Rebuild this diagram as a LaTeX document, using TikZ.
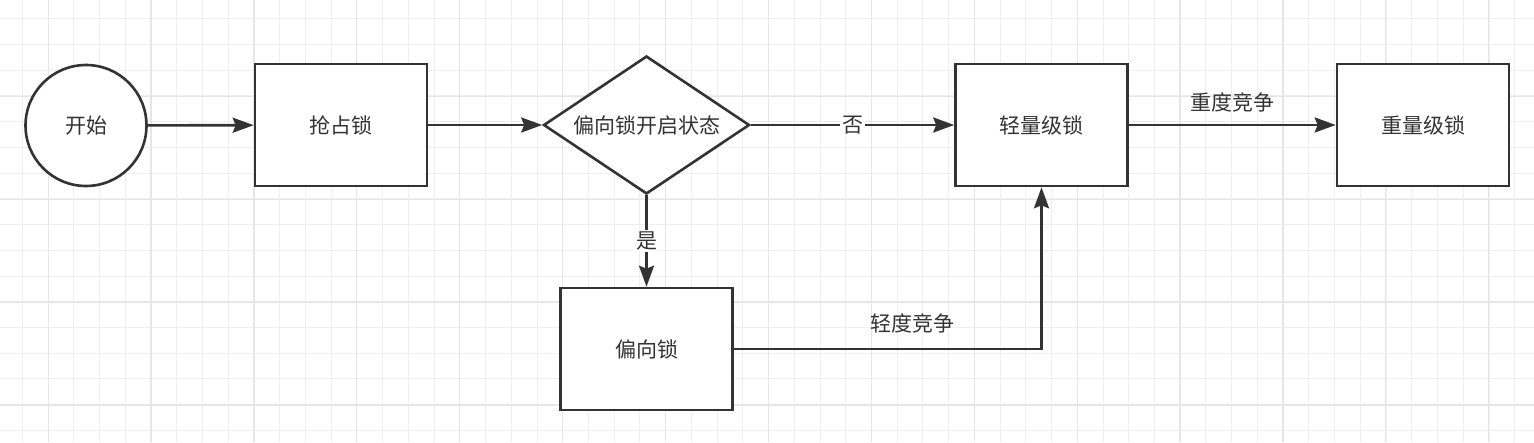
\documentclass[tikz,border=0pt]{standalone}
\usepackage{fontspec}
\newfontfamily\cjk{Noto Sans CJK SC}
\usetikzlibrary{arrows.meta,positioning,shapes.geometric}
\definecolor{ink}{HTML}{333333}
\definecolor{gridminor}{HTML}{EFEFEF}
\definecolor{gridmajor}{HTML}{E6E6E6}

\begin{document}
\begin{tikzpicture}[x=1pt, y=-1pt,
  every node/.style={font=\cjk\fontsize{21}{21}\selectfont, text=ink},
  box/.style={draw=ink, line width=2.6pt, fill=white, minimum width=172pt, minimum height=122pt, inner sep=0pt},
  startnode/.style={draw=ink, line width=2.6pt, fill=white, circle, minimum size=121pt, inner sep=0pt},
  choice/.style={draw=ink, line width=2.6pt, fill=white, diamond, aspect=1.5, minimum width=206pt, minimum height=138pt, inner sep=0pt},
  flow/.style={draw=ink, line width=2.6pt, -{Stealth[length=21pt, width=15pt, inset=3pt]}},
  tag/.style={fill=white, inner sep=2pt}]
\useasboundingbox[fill=white] (0,0) rectangle (1534,442);
% background grid
\foreach \i in {0,...,58} \draw[gridminor, line width=1pt] ({22.4+25.73*\i},0) -- ++(0,442);
\foreach \i in {0,...,16} \draw[gridminor, line width=1pt] (0,{18.7+25.73*\i}) -- ++(1534,0);
\foreach \i in {0,...,14} \draw[gridmajor, line width=1.2pt] ({48.1+102.9*\i},0) -- ++(0,442);
\foreach \i in {0,...,3} \draw[gridmajor, line width=1.2pt] (0,{96.2+102.9*\i}) -- ++(1534,0);

\node[startnode] (start) at (86,125.5) {开始};
\node[box] (grab) at (341,125) {抢占锁};
\node[choice] (check) at (646.5,125) {偏向锁开启状态};
\node[box] (light) at (1041.5,125) {轻量级锁};
\node[box] (heavy) at (1423,125) {重量级锁};
\node[box] (biased) at (646.5,349) {偏向锁};

\draw[flow] (start) -- (grab);
\draw[flow] (grab) -- (check);
\draw[flow] (check) -- node[tag] {否} (light);
\draw[flow] (check) -- node[tag] {是} (biased);
\draw[flow] (biased.east) -| node[pos=0.29, above=15pt, inner sep=0pt] {轻度竞争} (light.south);
\draw[flow] (light) -- node[above=12pt, inner sep=0pt] {重度竞争} (heavy);
\end{tikzpicture}
\end{document}
